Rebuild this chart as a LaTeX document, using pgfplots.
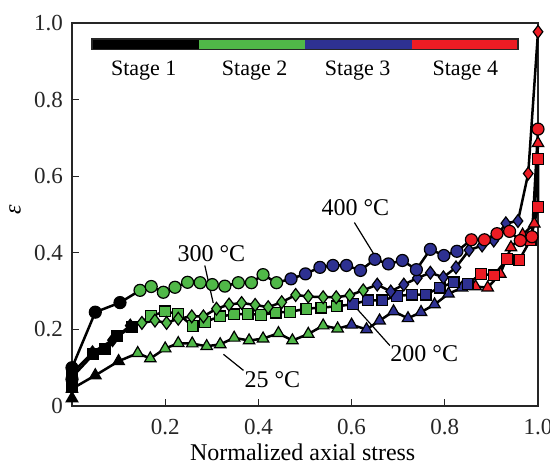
\documentclass[border=0pt]{standalone}
\usepackage{pgfplots}
\pgfplotsset{compat=1.18}
\usepackage{fontspec}
\setmainfont{Liberation Serif}
\definecolor{sgreen}{RGB}{80,184,72}
\definecolor{sblue}{RGB}{46,49,146}
\definecolor{sred}{RGB}{237,28,36}
\pgfplotsset{stg/.style={scatter, scatter src=explicit symbolic,
  scatter/classes={a={fill=black},b={fill=sgreen},c={fill=sblue},d={fill=sred}},
  line width=1.25pt, black, mark options={draw=black, line width=0.6pt, solid}}}

\pgfplotstableread{
x y s
0 0.020 a
0 0.045 a
0.050 0.080 a
0.100 0.117 a
0.141 0.138 b
0.168 0.124 b
0.200 0.150 b
0.228 0.164 b
0.258 0.163 b
0.289 0.156 b
0.318 0.161 b
0.348 0.178 b
0.380 0.171 b
0.410 0.176 b
0.443 0.190 b
0.473 0.171 b
0.507 0.188 b
0.539 0.210 b
0.570 0.202 b
0.600 0.212 c
0.632 0.200 c
0.660 0.223 c
0.690 0.247 c
0.721 0.229 c
0.749 0.245 c
0.778 0.265 c
0.808 0.293 c
0.837 0.309 c
0.866 0.312 d
0.892 0.309 d
0.919 0.345 d
0.942 0.414 d
0.967 0.447 d
0.992 0.476 d
1.0 0.686 d
}\tri

\pgfplotstableread{
x y s
0 0.050 a
0 0.075 a
0.046 0.135 a
0.070 0.150 a
0.096 0.182 a
0.128 0.205 a
0.170 0.235 b
0.200 0.247 b
0.228 0.240 b
0.259 0.209 b
0.286 0.220 b
0.318 0.234 b
0.347 0.239 b
0.377 0.241 b
0.406 0.238 b
0.437 0.244 b
0.468 0.246 b
0.503 0.254 b
0.535 0.257 b
0.568 0.260 b
0.603 0.266 c
0.635 0.276 c
0.666 0.276 c
0.698 0.287 c
0.729 0.291 c
0.759 0.291 c
0.789 0.309 c
0.819 0.323 c
0.849 0.319 c
0.878 0.345 d
0.905 0.341 d
0.934 0.384 d
0.960 0.382 d
0.984 0.434 d
1.0 0.519 d
1.0 0.645 d
}\sqr

\pgfplotstableread{
x y s
0 0.060 a
0 0.085 a
0.044 0.140 a
0.087 0.172 a
0.125 0.210 a
0.150 0.217 b
0.178 0.223 b
0.203 0.217 b
0.228 0.228 b
0.257 0.234 b
0.282 0.234 b
0.310 0.254 b
0.337 0.265 b
0.364 0.269 b
0.393 0.264 b
0.421 0.258 b
0.450 0.271 b
0.480 0.290 b
0.507 0.286 b
0.539 0.284 b
0.567 0.284 b
0.596 0.289 b
0.625 0.302 b
0.655 0.317 c
0.684 0.299 c
0.712 0.317 c
0.741 0.334 c
0.769 0.348 c
0.797 0.336 c
0.824 0.362 c
0.852 0.407 c
0.880 0.419 c
0.905 0.432 c
0.931 0.477 c
0.957 0.483 c
0.979 0.607 d
1.0 0.977 d
}\dia

\pgfplotstableread{
x y s
0 0.070 a
0 0.100 a
0.050 0.245 a
0.103 0.270 a
0.146 0.302 b
0.170 0.312 b
0.196 0.297 b
0.221 0.310 b
0.248 0.323 b
0.275 0.322 b
0.301 0.317 b
0.328 0.313 b
0.357 0.322 b
0.385 0.322 b
0.410 0.343 b
0.439 0.322 b
0.470 0.332 c
0.501 0.345 c
0.532 0.362 c
0.560 0.367 c
0.589 0.367 c
0.619 0.354 c
0.650 0.383 c
0.679 0.371 c
0.709 0.380 c
0.739 0.356 c
0.769 0.409 c
0.798 0.393 c
0.826 0.404 c
0.857 0.434 d
0.885 0.434 d
0.912 0.450 d
0.939 0.456 d
0.962 0.432 d
0.987 0.442 d
1.0 0.723 d
}\cir

\begin{document}
\begin{tikzpicture}
\useasboundingbox (-36pt,-28.5pt) rectangle (239pt,203pt);
\begin{axis}[at={(0,0)}, anchor=south west, scale only axis,
  width=233pt, height=191.5pt,
  xmin=0, xmax=1, ymin=0, ymax=1, clip=false,
  axis line style={line width=0.6pt, black!85},
  xtick={0.2,0.4,0.6,0.8,1.0}, xticklabels={0.2,0.4,0.6,0.8,1.0},
  ytick={0,0.2,0.4,0.6,0.8,1.0}, yticklabels={0,0.2,0.4,0.6,0.8,1.0},
  xtick pos=lower, ytick pos=left, tick align=inside,
  major tick length=3.5pt, tick style={line width=0.6pt, black!85},
  ticklabel style={font=\fontsize{11.5}{13}\selectfont, text=black!85},
  yticklabel style={xshift=-1pt},
  xticklabel style={yshift=-3pt},
]
% stage bar
\fill[black] (axis cs:0.043,0.930) rectangle (axis cs:0.272,0.958);
\fill[sgreen] (axis cs:0.272,0.930) rectangle (axis cs:0.501,0.958);
\fill[sblue] (axis cs:0.501,0.930) rectangle (axis cs:0.730,0.958);
\fill[sred] (axis cs:0.730,0.930) rectangle (axis cs:0.957,0.958);
\draw[line width=0.6pt, black!85] (axis cs:0.043,0.930) rectangle (axis cs:0.957,0.958);
\begin{scope}[font=\fontsize{11}{13}\selectfont]
\node at (axis cs:0.154,0.875) {Stage 1};
\node at (axis cs:0.392,0.875) {Stage 2};
\node at (axis cs:0.613,0.875) {Stage 3};
\node at (axis cs:0.844,0.875) {Stage 4};
\end{scope}

\addplot[stg, mark=triangle*, mark size=3.3pt] table[x=x, y=y, meta=s] {\tri};
\addplot[stg, mark=square*, mark size=2.7pt] table[x=x, y=y, meta=s] {\sqr};
\addplot[stg, mark=diamond*, mark size=3.2pt] table[x=x, y=y, meta=s] {\dia};
\addplot[stg, mark=*, mark size=3pt] table[x=x, y=y, meta=s] {\cir};

% labels
\begin{scope}[font=\fontsize{12}{14}\selectfont]
\node at (axis cs:0.608,0.518) {400 \textdegree C};
\draw[line width=0.6pt] (axis cs:0.606,0.479) -- (axis cs:0.647,0.398);
\node at (axis cs:0.299,0.397) {300 \textdegree C};
\draw[line width=0.6pt] (axis cs:0.285,0.367) -- (axis cs:0.303,0.269);
\node at (axis cs:0.756,0.137) {200 \textdegree C};
\draw[line width=0.6pt] (axis cs:0.607,0.260) -- (axis cs:0.682,0.158);
\node at (axis cs:0.430,0.070) {25 \textdegree C};
\draw[line width=0.6pt] (axis cs:0.325,0.135) -- (axis cs:0.368,0.093);
\node[rotate=90] at ([xshift=-28.5pt]axis description cs:0,0.512) {\textit{ε}};
\node at ([yshift=-23pt]axis description cs:0.495,0) {Normalized axial stress};
\end{scope}
\end{axis}
\end{tikzpicture}
\end{document}
